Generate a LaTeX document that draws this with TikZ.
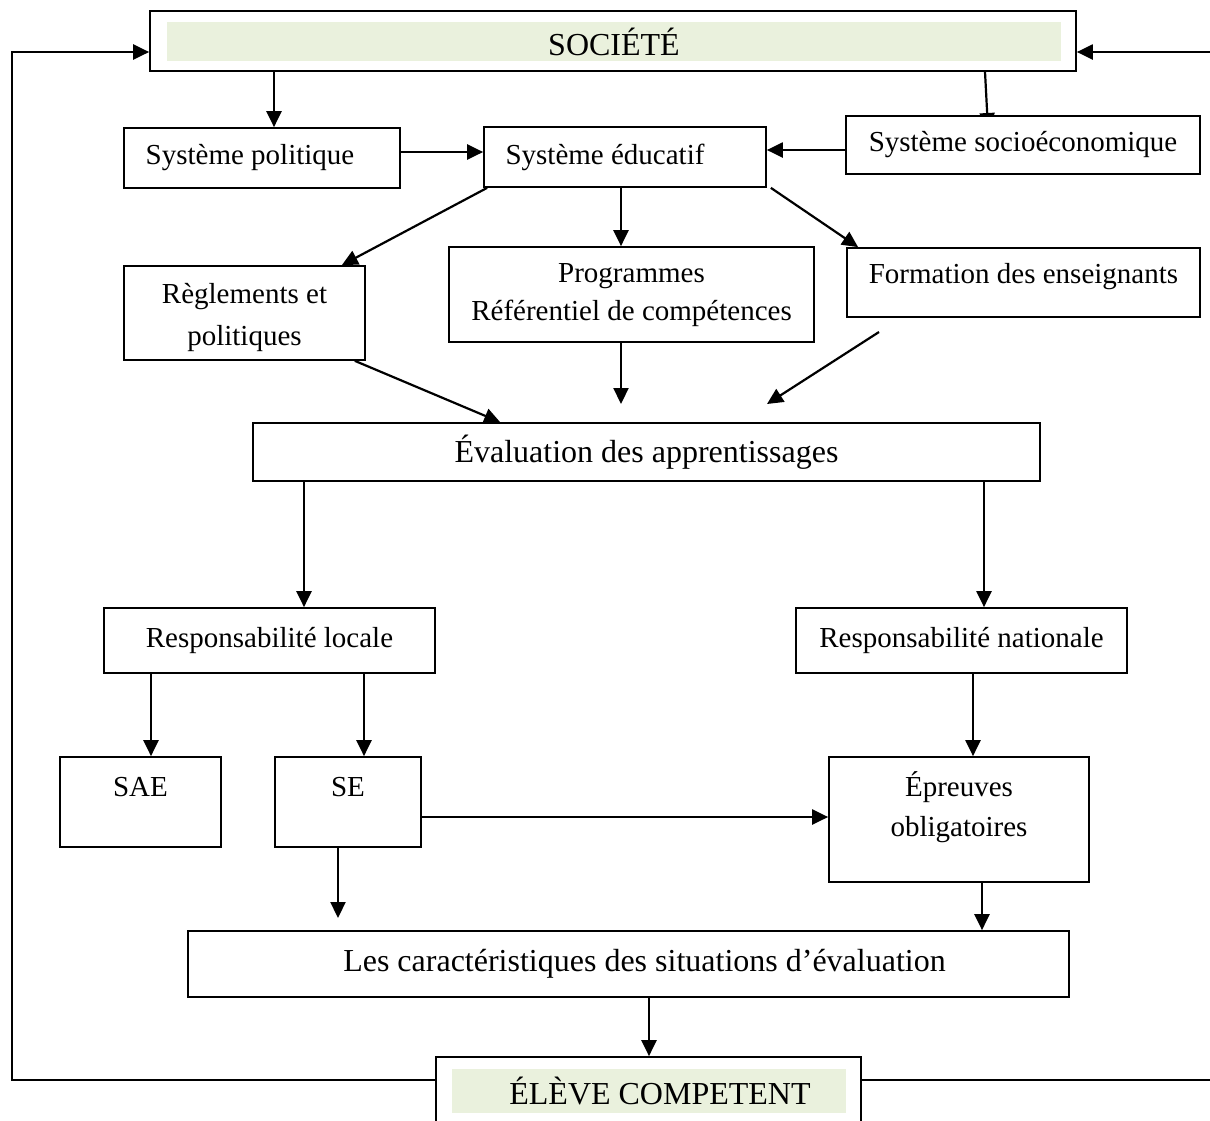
\documentclass[tikz,border=0pt]{standalone}
\usepackage{fontspec}
\setmainfont{Liberation Serif}
\usetikzlibrary{arrows.meta,backgrounds}
\definecolor{lightgreen}{RGB}{234,241,221}
\newcommand{\dsmall}{\fontsize{14.5pt}{20pt}\selectfont}
\newcommand{\dbig}{\fontsize{16pt}{20pt}\selectfont}
\begin{document}
\begin{tikzpicture}[x=0.5pt,y=-0.5pt,
  box/.style={draw, line width=0.85pt, inner sep=0pt, align=center, font=\dsmall},
  greenbox/.style={fill=lightgreen, inner sep=0pt, font=\dbig},
  txt/.style={inner sep=0pt, align=center, font=\dsmall},
  arr/.style={-{Triangle[length=8pt,width=7.5pt]}, line width=1.1pt},
  ln/.style={line width=1.1pt}]
\useasboundingbox (0,0) rectangle (1210,1120);

% boxes
\node[box, minimum width=463pt, minimum height=30pt] (socout) at (613,41) {};
\node[greenbox, minimum width=447pt, minimum height=19.5pt] (soc) at (614,41.5) {SOCIÉTÉ};
\node[box, minimum width=138pt, minimum height=30pt] (pol) at (262,158) {Système politique\hspace*{12pt}};
\node[box, minimum width=141pt, minimum height=30pt] (edu) at (625,157) {Système éducatif\hspace*{20pt}};
\node[box, fill=white, minimum width=177pt, minimum height=29pt] (soceco) at (1023,145) {Système socioéconomique};
\node[box, minimum width=120.5pt, minimum height=47pt] (regl) at (244.5,313) {};
\node[txt, font=\fontsize{14.5pt}{21pt}\selectfont] (reglt) at (244.5,317) {Règlements et\\politiques};
\node[box, minimum width=182.5pt, minimum height=47.5pt] (prog) at (631.5,294.5) {};
\node[txt, font=\fontsize{14.5pt}{19pt}\selectfont] (progt) at (631.5,295.5) {Programmes\\Référentiel de compétences};
\node[box, minimum width=176.5pt, minimum height=34.5pt] (form) at (1023.5,282.5) {};
\node[txt] (formt) at (1023.5,277) {Formation des enseignants};
\node[box, minimum width=393.5pt, minimum height=29pt, font=\dbig] (eval) at (646.5,452) {Évaluation des apprentissages};
\node[box, minimum width=165.5pt, minimum height=32.5pt] (loc) at (269.5,640.5) {Responsabilité locale};
\node[box, minimum width=165.5pt, minimum height=32.5pt] (nat) at (961.5,640.5) {Responsabilité nationale};
\node[box, minimum width=80.5pt, minimum height=45pt] (sae) at (140.5,802) {};
\node[txt] (saet) at (140.5,787) {SAE};
\node[box, minimum width=73pt, minimum height=45pt] (se) at (348,802) {};
\node[txt] (set) at (348,787) {SE};
\node[box, minimum width=130pt, minimum height=62.5pt] (epr) at (959,819.5) {};
\node[txt] (eprt) at (959,807) {Épreuves\\obligatoires};
\node[box, minimum width=440.5pt, minimum height=33pt, font=\dbig] (car) at (628.5,964) {\hspace*{16pt}Les caractéristiques des situations d’évaluation};
\node[box, minimum width=212.5pt, minimum height=35.5pt] (eleveo) at (648.5,1092.5) {};
\node[greenbox, minimum width=197pt, minimum height=22pt] (eleve) at (649,1091) {\hspace*{11pt}ÉLÈVE COMPETENT};

% helper coordinates
\coordinate (X274) at (274,0);
\coordinate (X985) at (985,0);
\coordinate (X621) at (621,0);
\coordinate (X304) at (304,0);
\coordinate (X984) at (984,0);
\coordinate (X151) at (151,0);
\coordinate (X364) at (364,0);
\coordinate (X973) at (973,0);
\coordinate (X338) at (338,0);
\coordinate (X982) at (982,0);
\coordinate (X649) at (649,0);
\coordinate (Y152) at (0,152);
\coordinate (Y150) at (0,150);
\coordinate (Y817) at (0,817);
\coordinate (lb) at (12,1080);
\coordinate (lt) at (12,52);
\coordinate (rb) at (1214,1080);
\coordinate (rt) at (1214,52);
\coordinate (c1) at (621,404);
\coordinate (c2) at (879,332);
\coordinate (c3) at (767,404);
\coordinate (c4) at (338,918);
\coordinate (c5) at (988,129);

% feedback loops
\draw[arr] (eleveo.west |- lb) -- (lb) -- (lt) -- (socout.west |- lt);
\draw[ln] (eleveo.east |- rb) -- (rb);
\draw[arr] (rt) -- (socout.east |- rt);

% connectors
\draw[arr] (socout.south -| X274) -- (pol.north -| X274);
\begin{scope}[on background layer]
\draw[arr] (socout.south -| X985) -- (c5);
\end{scope}
\draw[arr] (pol.east |- Y152) -- (edu.west |- Y152);
\draw[arr] (soceco.west |- Y150) -- (edu.east |- Y150);
\draw[arr] ([xshift=2pt]edu.south west) -- ([xshift=-12pt]regl.north east);
\draw[arr] (edu.south -| X621) -- (prog.north -| X621);
\draw[arr] ([xshift=2pt]edu.south east) -- ([xshift=6pt]form.north west);
\draw[arr] ([xshift=-5.5pt]regl.south east) -- ([xshift=124pt]eval.north west);
\draw[arr] (prog.south -| X621) -- (c1);
\draw[arr] (c2) -- (c3);
\draw[arr] (eval.south -| X304) -- (loc.north -| X304);
\draw[arr] (eval.south -| X984) -- (nat.north -| X984);
\draw[arr] (loc.south -| X151) -- (sae.north -| X151);
\draw[arr] (loc.south -| X364) -- (se.north -| X364);
\draw[arr] (nat.south -| X973) -- (epr.north -| X973);
\draw[arr] (se.east |- Y817) -- (epr.west |- Y817);
\draw[arr] (se.south -| X338) -- (c4);
\draw[arr] (epr.south -| X982) -- (car.north -| X982);
\draw[arr] (car.south -| X649) -- (eleveo.north -| X649);
\end{tikzpicture}
\end{document}
